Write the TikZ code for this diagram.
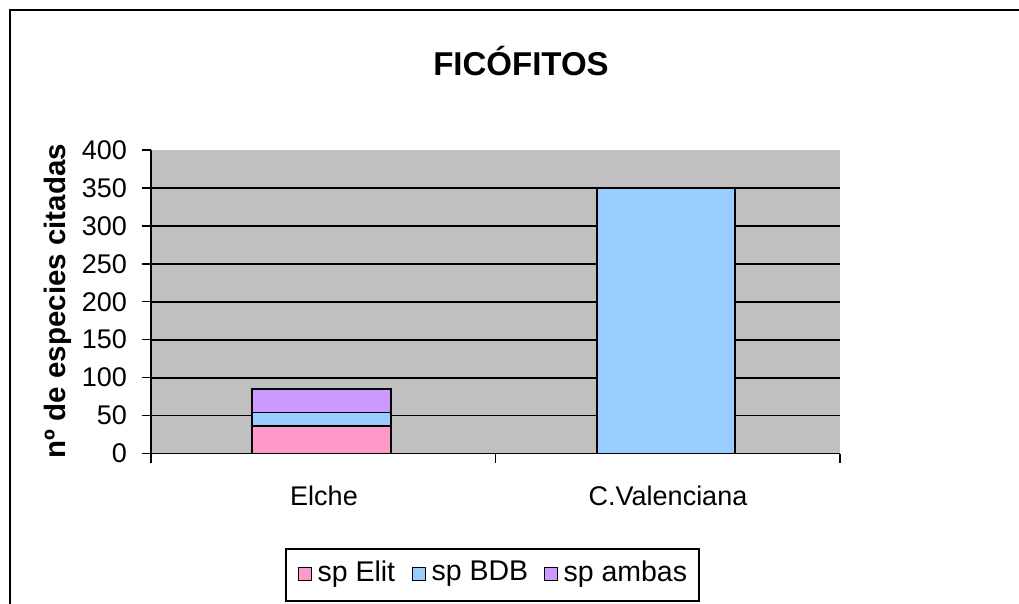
\documentclass[tikz,border=0pt]{standalone}
\usepackage{fontspec}
\setmainfont{Liberation Sans}
\usetikzlibrary{positioning}
\definecolor{plotgray}{RGB}{192,192,192}
\definecolor{elitpink}{RGB}{255,153,204}
\definecolor{bdbblue}{RGB}{153,204,255}
\definecolor{ambaspurple}{RGB}{204,153,255}

\begin{document}
\begin{tikzpicture}[x=1pt,y=1pt, font=\fontsize{27}{32}\selectfont,
  axis line/.style={line width=1.5pt},
  grid line/.style={line width=1.8pt},
  bar/.style={draw=black, line width=1.5pt},
  tick label/.style={anchor=east, inner sep=0pt},
  legend key/.style={draw=black, line width=1.2pt, minimum size=13.5pt, inner sep=0pt},
  legend text/.style={inner sep=0pt, right=5pt of #1, font=\fontsize{28.5}{33}\selectfont}]
\useasboundingbox (0,0) rectangle (1019,603);
\clip (0,0) rectangle (1019,603);
\draw[line width=2.2pt] (10,-20) rectangle (1040,593);

\node[font=\fontsize{33}{38}\selectfont\bfseries] (title) at (521,542) {FICÓFITOS};
\node[rotate=90, font=\fontsize{29.5}{34}\selectfont\bfseries] (ylabel) at (58,302) {nº de especies citadas};

\begin{scope}[shift={(151,149.5)}, y=0.7588pt]
\fill[plotgray] (0,0) rectangle (689,400);
\foreach \v in {50,100,...,350}
  \draw[grid line] (0,\v) -- (689,\v);

\filldraw[bar, fill=elitpink] (101,0) rectangle (240,36);
\filldraw[bar, fill=bdbblue] (101,36) rectangle (240,54);
\filldraw[bar, fill=ambaspurple] (101,54) rectangle (240,85);
\filldraw[bar, fill=bdbblue] (446,0) rectangle (584,350);

\draw[axis line] (0,-12) -- (0,400);
\foreach \v in {0,50,...,400} {
  \draw[axis line] (-9,\v) -- (0,\v);
  \node[tick label] (tick\v) at (-24,\v) {\v};
}
\draw[axis line] (0,0) -- (689,0);
\foreach \x in {344.5,689}
  \draw[axis line] (\x,0) -- (\x,-12);
\end{scope}

\node (elche) at (324,107) {Elche};
\node (cval) at (668,107) {C.Valenciana};

\draw[line width=1.5pt, fill=white] (286,2) rectangle (699,54);
\node[legend key, fill=elitpink] (kElit) at (305,29) {};
\node[legend text=kElit] (tElit) {sp Elit};
\node[legend key, fill=bdbblue] (kBDB) at (419,29) {};
\node[legend text=kBDB] (tBDB) {sp BDB};
\node[legend key, fill=ambaspurple] (kAmbas) at (551,29) {};
\node[legend text=kAmbas] (tAmbas) {sp ambas};
\end{tikzpicture}
\end{document}
